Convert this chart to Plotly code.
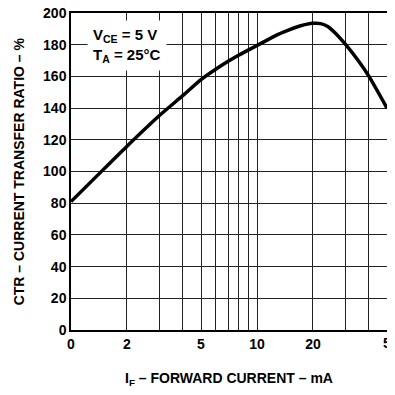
import math
import plotly.graph_objects as go

# Data
if_ma = [1, 1.5, 2, 3, 4, 5, 6, 7, 8, 10, 13, 15, 17, 20, 22, 24, 26, 30, 35, 40, 50]
ctr_pct = [81, 101.5, 116, 135.5, 148, 158, 164.5, 169.5, 173.5, 179.5, 186.5, 189.5, 191.8,
           193.5, 193.3, 191.5, 188, 180, 170, 160, 140]

x_tickvals = [1, 2, 3, 4, 5, 6, 7, 8, 9, 10, 20, 30, 40, 50]
x_ticktext = ["0", "2", "", "", "5", "", "", "", "", "10", "20", "", "", ""]
x_last_value = 50
x_last_label = "50"
y_tickvals = [0, 20, 40, 60, 80, 100, 120, 140, 160, 180, 200]

FONT = "Liberation Sans, Arial, sans-serif"

fig = go.Figure()
fig.add_trace(go.Scatter(
    x=if_ma, y=ctr_pct, mode="lines",
    line=dict(color="black", width=3.5, shape="spline", smoothing=0.6),
    hoverinfo="skip", showlegend=False,
))

# page body has an 8px margin, so the figure is sized to fit without scrolling
fig.update_layout(
    width=387, height=379,
    margin=dict(l=63, r=8, t=5, b=57),
    paper_bgcolor="white", plot_bgcolor="white",
    font=dict(family=FONT, color="black", size=14),
    xaxis=dict(
        type="log", range=[0, math.log10(x_last_value)], automargin=False, ticklabeloverflow="allow",
        tickvals=x_tickvals, ticktext=x_ticktext,
        showgrid=True, gridcolor="#222", gridwidth=1,
        showline=True, linecolor="black", linewidth=1.5, mirror=True,
        ticks="", zeroline=False,
        tickfont=dict(family=FONT, size=14, color="black", weight="bold"),
    ),
    yaxis=dict(
        range=[0, 200], tickvals=y_tickvals, automargin=False, ticklabeloverflow="allow",
        showgrid=True, gridcolor="#222", gridwidth=1,
        showline=True, linecolor="black", linewidth=1.5, mirror=True,
        ticks="", zeroline=False,
        tickfont=dict(family=FONT, size=14, color="black", weight="bold"),
    ),
    annotations=[
        dict(
            text=x_last_label,
            xref="x", yref="paper", x=math.log10(x_last_value), y=0,
            xanchor="center", yanchor="top", xshift=4, yshift=-3, showarrow=False,
            font=dict(family=FONT, size=14, color="black", weight="bold"),
        ),
        dict(
            text="V<sub>CE</sub> = 5 V<br>T<sub>A</sub> = 25°C",
            xref="paper", yref="paper", x=0.177, y=0.896,
            xanchor="center", yanchor="middle", showarrow=False,
            bgcolor="white", borderpad=5, align="left",
            font=dict(family=FONT, size=15, color="black", weight="bold"),
        ),
        dict(
            text="I<sub>F</sub> – FORWARD CURRENT – mA",
            xref="paper", yref="paper", x=0.5, y=-0.155,
            xanchor="center", yanchor="middle", showarrow=False,
            font=dict(family=FONT, size=14, color="black", weight="bold"),
        ),
        dict(
            text="CTR – CURRENT TRANSFER RATIO – %",
            xref="paper", yref="paper", x=-0.165, y=0.5,
            xanchor="center", yanchor="middle", showarrow=False, textangle=-90,
            font=dict(family=FONT, size=14, color="black", weight="bold"),
        ),
    ],
)

fig.write_html("out.html")
